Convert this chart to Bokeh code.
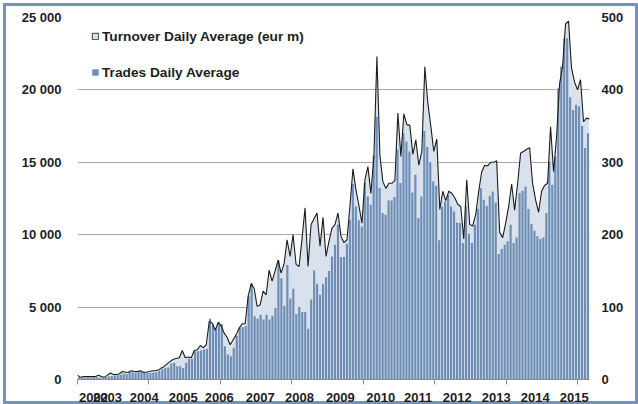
import numpy as np
from bokeh.plotting import figure
from bokeh.models import (Range1d, LinearAxis, FixedTicker, CustomJSTickFormatter,
                          Legend, LegendItem, ColumnDataSource)
from bokeh.embed import file_html
from bokeh.resources import INLINE

# ---------------- data (monthly, Jan 2002 onwards) ----------------
trades = [
    150, 100, 100, 120, 120, 130, 150, 120, 110, 130, 200, 250,
    280, 300, 330, 400, 380, 550, 500, 480, 600, 520, 500, 450,
    450, 480, 500, 600, 750, 800, 830, 1100, 1150, 920, 920, 800,
    1150, 1430, 1430, 1950, 1950, 2000, 2070, 2100, 4190, 3800, 3500, 3950,
    3840, 2300, 1720, 1600, 2200, 3000, 3600, 3600, 3700, 5750, 6670, 4370,
    4190, 4480, 4140, 4480, 4140, 4410, 4940, 8230, 7000, 5100, 7900, 5590,
    6260, 4530, 5010, 4670, 4670, 3500, 5520, 7520, 6620, 5860, 6620, 7060,
    7500, 8500, 9300, 10690, 8440, 8460, 9380, 11030, 13500, 11950, 11000, 10570,
    13570, 12640, 12070, 15470, 18120, 13220, 11500, 11380, 12370, 12370, 12600, 15860,
    13570, 17010, 16430, 15750, 12920, 14140, 11150, 12640, 17170, 16050, 15000, 13680,
    13380, 9610, 11950, 12300, 12760, 11950, 11610, 10850, 10810, 9430, 12000, 10070,
    9430, 10690, 11800, 13220, 12410, 12000, 12690, 12990, 12230, 8670, 9010, 9300,
    9540, 10690, 9430, 9810, 12880, 13030, 13330, 11770, 10740, 10280, 9900, 9700,
    9810, 11500, 15060, 13450, 15400, 20120, 21610, 23570, 23570, 19500, 18620, 18970,
    18850, 17500, 15980, 17010,
]
turnover = [
    6, 3, 4, 4, 4, 4, 4, 6, 4, 3, 6, 9,
    7, 7, 8, 11, 10, 10, 12, 11, 11, 12, 10, 10,
    11, 12, 12, 13, 16, 18, 22, 25, 28, 29, 30, 40,
    30, 31, 30, 40, 41, 47, 44, 48, 80, 78, 68, 79,
    74, 64, 58, 48, 55, 62, 71, 77, 77, 115, 132, 126,
    101, 103, 122, 117, 151, 136, 150, 165, 147, 160, 193, 170,
    200, 159, 156, 195, 237, 156, 214, 222, 230, 184, 224, 170,
    191, 209, 214, 230, 198, 189, 193, 240, 291, 262, 240, 216,
    276, 294, 257, 309, 446, 310, 273, 264, 271, 271, 275, 368,
    308, 367, 352, 351, 311, 331, 296, 315, 432, 382, 350, 315,
    332, 235, 260, 247, 260, 257, 251, 242, 239, 194, 276, 214,
    212, 228, 260, 287, 296, 295, 300, 300, 302, 203, 196, 216,
    239, 270, 234, 271, 313, 315, 318, 320, 271, 248, 231, 260,
    268, 271, 349, 287, 335, 408, 432, 491, 495, 430, 411, 400,
    414, 356, 361, 360,
]
year_labels = ["2002", "2003", "2004", "2005", "2006", "2007", "2008",
               "2009", "2010", "2011", "2012", "2013", "2014", "2015"]
left_ticks = [0, 5000, 10000, 15000, 20000, 25000]
left_tick_labels = ["0", "5 000", "10 000", "15 000", "20 000", "25 000"]
right_ticks = [0, 100, 200, 300, 400, 500]
legend_labels = ["Turnover Daily Average (eur m)", "Trades Daily Average"]

# ---------------- layout / style ----------------
year_label_pos = [5.4, 10.1, 22.4, 35.5, 47.6, 61.4, 74.6, 88.3, 101.9,
                  114.4, 127.6, 140.7, 153.8, 166.9]
tick_months = list(range(0, 170, 24))

bar_color = "#6E8DB5"
area_color = "#D9E2EC"
line_color = "#1C1C1C"
frame_color = "#7792B4"
grid_color = "#A9A9A9"
text_color = "#1E1E1E"
axis_gray = "#8A8A8A"
FONT = "Liberation Sans"

n = len(trades)
month = np.arange(n)
src = ColumnDataSource(dict(xb=month + 0.5, xa=month, trades=trades, turnover=turnover))

p = figure(width=635, height=401, output_backend="svg", toolbar_location=None,
           x_range=Range1d(0, n), y_range=Range1d(0, 25000),
           min_border_left=74, min_border_right=49, min_border_top=14, min_border_bottom=24,
           styles={"margin-left": "3px", "margin-top": "3px",
                   "box-shadow": "inset 0 0 0 3px " + frame_color})
p.extra_x_ranges = {"area": Range1d(0, n - 1)}
p.extra_y_ranges = {"right": Range1d(0, 500)}
p.border_fill_color = None
p.background_fill_color = None
p.outline_line_color = None

area = p.varea(x="xa", y1=0, y2="turnover", source=src, x_range_name="area",
               y_range_name="right", fill_color=area_color)
bars = p.vbar(x="xb", top="trades", width=0.72, source=src, fill_color=bar_color,
              line_color=None)
p.line(x="xa", y="turnover", source=src, x_range_name="area", y_range_name="right",
       line_color=line_color, line_width=1.1)
# legend-only proxy (nothing drawn in the plot)
proxy = p.quad(left=[np.nan], right=[np.nan], top=[np.nan], bottom=[np.nan],
               fill_color=area_color, line_color="#3A3A3A", line_width=1)

p.xgrid.visible = False
p.ygrid[0].ticker = FixedTicker(ticks=left_ticks)
p.ygrid[0].grid_line_color = grid_color
p.ygrid[0].grid_line_width = 1

def style_axis(ax, standoff):
    ax.major_label_text_font = FONT
    ax.major_label_text_font_style = "bold"
    ax.major_label_text_font_size = "13px"
    ax.major_label_text_color = text_color
    ax.major_label_standoff = standoff
    ax.major_tick_out = 0
    ax.major_tick_in = 0
    ax.minor_tick_in = 0

yl = p.yaxis[0]
yl.ticker = FixedTicker(ticks=left_ticks)
yl.major_label_overrides = dict(zip(left_ticks, left_tick_labels))
style_axis(yl, 16)
yl.axis_line_color = None
yl.major_tick_line_color = None
yl.minor_tick_line_color = None
yl.minor_tick_out = 0

yr = LinearAxis(y_range_name="right", ticker=FixedTicker(ticks=right_ticks))
style_axis(yr, 12)
yr.axis_line_color = None
yr.major_tick_line_color = None
yr.minor_tick_line_color = None
yr.minor_tick_out = 0
p.add_layout(yr, "right")

xb = p.xaxis[0]
xb.ticker = FixedTicker(ticks=year_label_pos, minor_ticks=tick_months)
xb.formatter = CustomJSTickFormatter(args=dict(pos=year_label_pos, labels=year_labels), code="""
let best = 0, bd = Infinity;
for (let k = 0; k < pos.length; k++) {
  const d = Math.abs(pos[k] - tick);
  if (d < bd) { bd = d; best = k; }
}
return labels[best];
""")
style_axis(xb, 8)
xb.axis_line_color = axis_gray
xb.axis_line_width = 1
xb.major_tick_line_color = None
xb.minor_tick_line_color = axis_gray
xb.minor_tick_out = 5

legend = Legend(items=[LegendItem(label=legend_labels[0], renderers=[proxy]),
                       LegendItem(label=legend_labels[1], renderers=[bars])],
                location=(14, 299), orientation="vertical",
                glyph_width=8, glyph_height=8, label_standoff=3,
                label_height=16, spacing=20, padding=0, margin=0,
                border_line_color=None, background_fill_alpha=0,
                label_text_font=FONT, label_text_font_style="bold",
                label_text_font_size="13.7px", label_text_color=text_color)
p.add_layout(legend, "center")

open("out.html", "w").write(file_html(p, INLINE))
